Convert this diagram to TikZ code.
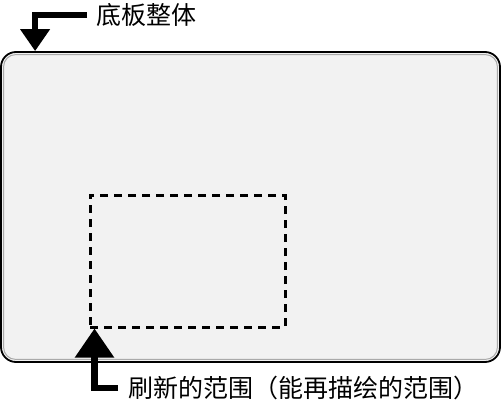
\documentclass[tikz,border=0pt]{standalone}
\usepackage{fontspec}
\usetikzlibrary{arrows.meta}
\newfontfamily\cjk{Noto Sans CJK SC}
\definecolor{boardfill}{RGB}{242,242,242}
\definecolor{boardrim}{RGB}{170,170,170}

\begin{document}
\begin{tikzpicture}[x=1pt, y=1pt,
    bigarrow/.style={line width=6.5pt, -{Triangle[length=#1 0 0,width=1.3*#1 0 0]}},
    bigarrow/.default=22pt,
    callout/.style={inner sep=0pt, anchor=west, font=\cjk\fontsize{25}{28}\selectfont}]
  \def\bw{499};
  \def\bh{310};
  \useasboundingbox (0,0) rectangle (501,400);
  %board
  \node[draw, line width=1.8pt, fill=boardfill, rounded corners=15pt,
        minimum width=\bw, minimum height=\bh, inner sep=0pt] (board) at (250.5,193) {};
  \draw[boardrim, line width=1pt, rounded corners=12pt]
    ([shift={(3.5,3.5)}]board.south west) rectangle ([shift={(-3.5,-3.5)}]board.north east);
  %redraw area
  \node[draw, line width=3pt, dash pattern=on 8pt off 6pt,
        minimum width=195, minimum height=132, inner sep=0pt] (region) at (187.5,139) {};

  \node[callout] (boardtext) at (96,385) {底板整体};
  \node[callout] (regiontext) at (128,12) {刷新的范围（能再描绘的范围）};

  \draw[bigarrow] ([xshift=-9pt]boardtext.west) -| ([xshift=35pt]board.north west);
  \draw[bigarrow=29pt] ([xshift=-10pt]regiontext.west) -| ([xshift=6pt]region.south west);
\end{tikzpicture}
\end{document}
